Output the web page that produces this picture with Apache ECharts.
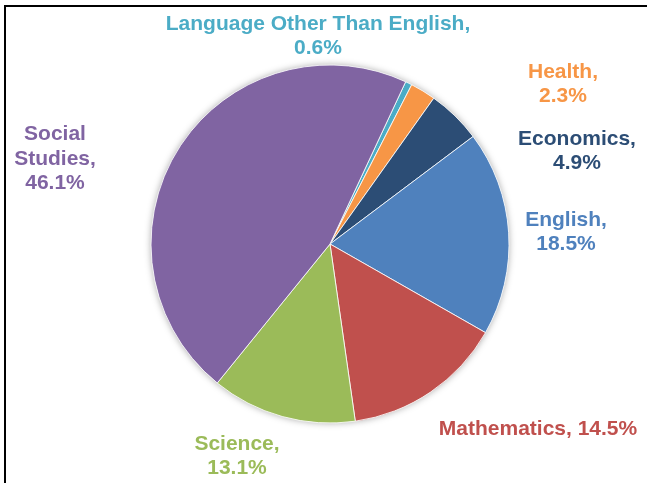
<!DOCTYPE html>
<html>
<head>
<meta charset="utf-8">
<script src="https://cdn.jsdelivr.net/npm/echarts@6/dist/echarts.min.js"></script>
<style>
  html, body { margin: 0; padding: 0; background: #fff; }
  #chart { width: 647px; height: 483px; }
</style>
</head>
<body>
<div id="chart"></div>
<script>
// Share of courses by subject area, in percent (clockwise order)
const subjects = [
  'Language Other Than English',
  'Health',
  'Economics',
  'English',
  'Mathematics',
  'Science',
  'Social Studies'
];
const shares = [0.6, 2.3, 4.9, 18.5, 14.5, 13.1, 46.1];
const sliceColors = ['#4BACC6', '#F79646', '#2C4D75', '#4F81BD', '#C0504D', '#9BBB59', '#8064A2'];

// How each label's text is broken into lines
const labelLines = {
  'Language Other Than English': (n, v) => n + ',\n' + v + '%',
  'Mathematics': (n, v) => n + ', ' + v + '%',
  'Social Studies': (n, v) => 'Social\nStudies,\n' + v + '%'
};

// Label block centres (px)
const labelPlace = {
  'Language Other Than English': [318, 36],
  'Health': [563, 84],
  'Economics': [577, 151],
  'English': [566, 232],
  'Mathematics': [538, 429],
  'Science': [237, 456],
  'Social Studies': [55, 159]
};

const chart = echarts.init(document.getElementById('chart'), null, { renderer: 'canvas' });

const pieCenter = [330, 244];
const pieRadius = 179;

chart.setOption({
  animation: false,
  backgroundColor: '#fff',
  graphic: [{
    type: 'rect',
    shape: { x: 5, y: 6, width: 800, height: 700 },
    style: { fill: 'none', stroke: '#000', lineWidth: 2 },
    silent: true,
    z: 100
  }],
  series: [
    {
      // soft drop shadow behind the whole pie
      type: 'pie',
      center: pieCenter,
      radius: pieRadius,
      silent: true,
      label: { show: false },
      labelLine: { show: false },
      itemStyle: {
        color: '#fff',
        shadowBlur: 7,
        shadowColor: 'rgba(0,0,0,0.35)'
      },
      data: [{ value: 1 }],
      z: 1
    },
    {
      type: 'pie',
      center: pieCenter,
      radius: pieRadius,
      startAngle: 65,
      clockwise: true,
      avoidLabelOverlap: false,
      itemStyle: { borderColor: '#fff', borderWidth: 0.8 },
      labelLine: { show: false },
      label: {
        show: true,
        position: 'outside',
        fontFamily: 'Liberation Sans, Arial, sans-serif',
        fontWeight: 'bold',
        fontSize: 21,
        lineHeight: 24.5,
        align: 'center',
        formatter: p => {
          const f = labelLines[p.name];
          return f ? f(p.name, p.value) : p.name + ',\n' + p.value + '%';
        }
      },
      labelLayout: p => {
        const name = subjects[p.dataIndex];
        const pos = labelPlace[name];
        return { x: pos[0], y: pos[1], align: 'center', verticalAlign: 'middle' };
      },
      data: subjects.map((s, i) => ({
        name: s,
        value: shares[i],
        itemStyle: { color: sliceColors[i] },
        label: { color: sliceColors[i] }
      })),
      z: 2
    }
  ]
});
</script>
</body>
</html>
